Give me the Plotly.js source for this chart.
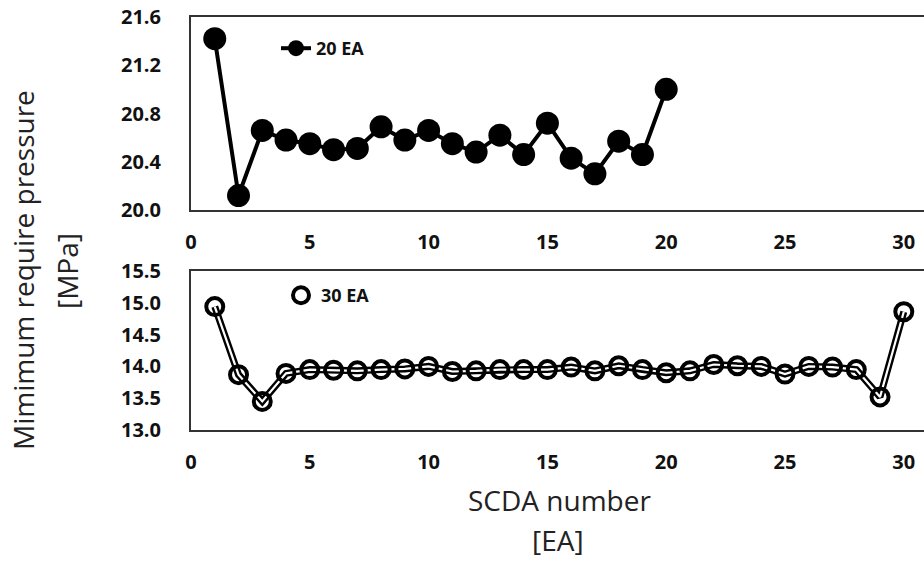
<!DOCTYPE html>
<html>
<head>
<meta charset="utf-8">
<script src="https://cdn.plot.ly/plotly-3.0.1.min.js"></script>
<style>html,body{margin:0;padding:0;background:#fff;}#chart{width:924px;height:562px;}</style>
</head>
<body>
<div id="chart"></div>
<script>
// SCDA number (x) and minimum required pressure [MPa]
const scda20 = [1,2,3,4,5,6,7,8,9,10,11,12,13,14,15,16,17,18,19,20];
const pressure20 = [21.42,20.12,20.66,20.58,20.55,20.50,20.51,20.69,20.58,20.66,20.55,20.48,20.62,20.46,20.72,20.43,20.30,20.57,20.46,21.00];
const scda30 = [1,2,3,4,5,6,7,8,9,10,11,12,13,14,15,16,17,18,19,20,21,22,23,24,25,26,27,28,29,30];
const pressure30 = [14.94,13.87,13.45,13.89,13.95,13.94,13.93,13.95,13.96,14.00,13.92,13.93,13.95,13.95,13.95,13.99,13.93,14.01,13.95,13.90,13.93,14.03,14.01,14.00,13.88,14.00,13.99,13.95,13.52,14.86];
const xTicks = [0,5,10,15,20,25,30];
const yTicksTop = [20.0,20.4,20.8,21.2,21.6];
const yTicksBottom = [13.0,13.5,14.0,14.5,15.0,15.5];

const FONT = 'Open Sans, Lato, sans-serif';
const tickFont = {family: FONT, size: 20, color: '#111', weight: 'bold'};
const frameColor = '#333';

const traces = [
  {x: scda20, y: pressure20, name: '20 EA', type: 'scatter', mode: 'lines+markers',
   xaxis: 'x2', yaxis: 'y2', legend: 'legend',
   line: {color: '#000', width: 4}, marker: {color: '#000', size: 23}},
  {x: scda30, y: pressure30, name: '30 EA outline', type: 'scatter', mode: 'lines',
   xaxis: 'x', yaxis: 'y', showlegend: false,
   line: {color: '#000', width: 7}},
  {x: scda30, y: pressure30, name: '30 EA', type: 'scatter', mode: 'lines+markers',
   xaxis: 'x', yaxis: 'y', legend: 'legend2',
   line: {color: '#fff', width: 2.2},
   marker: {symbol: 'circle-open', size: 17, color: '#000', line: {width: 4, color: '#000'}}}
];

function xAxis(anchor) {
  return {anchor: anchor, domain: [0, 1], range: [0, 30.85], tickvals: xTicks,
    ticktext: xTicks.map(String), ticks: 'outside', ticklen: 13, tickcolor: 'rgba(0,0,0,0)',
    showline: true, mirror: true, linecolor: frameColor, linewidth: 2,
    showgrid: false, zeroline: false, tickfont: tickFont};
}
function yAxis(anchor, domain, range, ticks) {
  return {anchor: anchor, domain: domain, range: range, tickvals: ticks, ticktext: ticks.map(v => v.toFixed(1)),
    ticks: 'outside', ticklen: 24, tickcolor: 'rgba(0,0,0,0)',
    showline: true, mirror: false, linecolor: frameColor, linewidth: 2,
    showgrid: false, zeroline: false, tickfont: tickFont};
}

const px = p => (p - 191) / 733;
const py = p => (430 - p) / 413;

const layout = {
  width: 924, height: 562,
  margin: {l: 191, r: 0, t: 17, b: 132},
  paper_bgcolor: '#fff', plot_bgcolor: '#fff',
  showlegend: true,
  xaxis: xAxis('y'),
  yaxis: yAxis('x', [0, 0.385], [13, 15.5], yTicksBottom),
  xaxis2: xAxis('y2'),
  yaxis2: yAxis('x2', [0.5327, 1], [20, 21.6], yTicksTop),
  legend: {x: px(276), y: py(30), xanchor: 'left', yanchor: 'top', bgcolor: 'rgba(0,0,0,0)',
    font: {family: FONT, size: 18, color: '#111', weight: 'bold'}},
  legend2: {x: px(281), y: py(277), xanchor: 'left', yanchor: 'top', bgcolor: 'rgba(0,0,0,0)',
    font: {family: FONT, size: 18, color: '#111', weight: 'bold'}},
  annotations: [
    {text: 'Mimimum require pressure', xref: 'paper', yref: 'paper',
     x: px(23), y: py(270), xanchor: 'center', yanchor: 'middle',
     textangle: -90, showarrow: false, font: {family: FONT, size: 28, color: '#222'}},
    {text: '[MPa]', xref: 'paper', yref: 'paper',
     x: px(67), y: py(271), xanchor: 'center', yanchor: 'middle',
     textangle: -90, showarrow: false, font: {family: FONT, size: 28, color: '#222'}},
    {text: 'SCDA number', xref: 'paper', yref: 'paper',
     x: px(559), y: py(500), xanchor: 'center', yanchor: 'middle',
     showarrow: false, font: {family: FONT, size: 28, color: '#222'}},
    {text: '[EA]', xref: 'paper', yref: 'paper',
     x: px(558), y: py(540), xanchor: 'center', yanchor: 'middle',
     showarrow: false, font: {family: FONT, size: 28, color: '#222'}}
  ]
};

Plotly.newPlot('chart', traces, layout, {displayModeBar: false, staticPlot: true});
</script>
</body>
</html>
